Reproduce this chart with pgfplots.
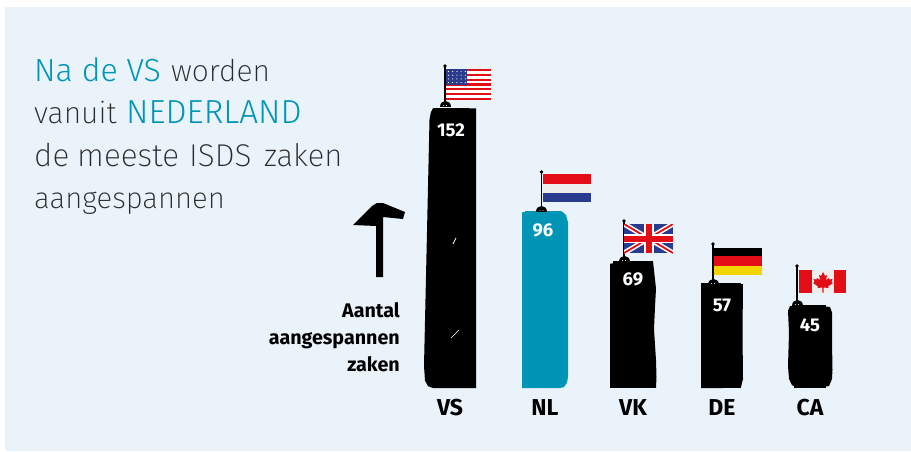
\documentclass[border=0pt]{standalone}
\usepackage{fontspec}
\usepackage{pgfplots}
\pgfplotsset{compat=1.18}
\setmainfont{Fira Sans}
\newfontfamily\lightfont{Fira Sans ExtraLight}
\newfontfamily\tealfont{Fira Sans Light}
\newfontfamily\boldfont{Fira Sans Bold}
\definecolor{panel}{HTML}{EAF3F9}
\definecolor{teal}{HTML}{0095B6}
\definecolor{fred}{HTML}{E30D16}
\definecolor{fblue}{HTML}{2A3B8D}
\definecolor{fwhite}{HTML}{EDEDED}
\definecolor{fyellow}{HTML}{F2D500}
\definecolor{ink}{HTML}{2B2B2B}
\newcommand\tl[1]{{\tealfont\fontsize{32}{32}\selectfont\textcolor{teal}{#1}}}
% flag pole and its foot: x, top y, foot y
\newcommand\pole[3]{%
  \draw[line width=1.4pt,black] (#1,#2) -- (#1,#3);
  \fill[black] (#1,#2) circle (1.9);
  \fill[black] ({#1-5.5},#3) .. controls ({#1-5.5},{#3-8}) and ({#1+5.5},{#3-8}) .. ({#1+5.5},#3) -- cycle;
  \fill[white] ({#1-1.5},{#3-1.3}) circle (0.5) ({#1+1.5},{#3-1.3}) circle (0.5);
}
\begin{document}
\begin{tikzpicture}
\useasboundingbox (0pt,-63pt) rectangle (911pt,388pt);
\fill[panel] (5pt,-63pt) rectangle (911pt,381pt);
\begin{axis}[
  at={(0pt,0pt)}, anchor=origin,
  scale only axis, width=911pt, height=388pt,
  xmin=0, xmax=911, ymin=0, ymax=210.87,
  clip=false,
  axis line style={draw=none},
  tick style={draw=none},
  ytick=\empty,
  xtick={450,545,633,722,810},
  xticklabels={VS,NL,VK,DE,CA},
  x tick label style={font=\boldfont\fontsize{23}{23}\selectfont, text=black, yshift=-8pt},
  /pgf/number format/assume math mode=true,
  nodes near coords,
  every node near coord/.append style={anchor=north, inner sep=0pt, text=white, font=\boldfont\fontsize{18.5}{18.5}\selectfont},
]
% hand-drawn outlines
\addplot[fill=black,draw=none,nodes near coords=] coordinates {(433,152)(476,152)(476,0)(433,0)(428,1)(425,4)(424,12)(427,85)(429.5,146)(431,150)} --cycle;
\addplot[fill=teal,draw=none,nodes near coords=] coordinates {(522,95.5)(540,96)(555,96)(562,96)(566,94)(568,90)(568,6)(567,3)(564,0.5)(560,0)(522,0)} --cycle;
\addplot[fill=black,draw=none,nodes near coords=] coordinates {(610,67.5)(625,69)(653,69)(654,64)(656,54)(655,44)(654,32)(656,15)(656.5,6)(656,0)(640,0.3)(625,0.5)(610,0)} --cycle;
\addplot[fill=black,draw=none,nodes near coords=] coordinates {(701,57)(720,56.5)(743,56.5)(742.5,30)(743,5)(741,0.5)(722,0)(701,0)} --cycle;
\addplot[fill=black,draw=none,nodes near coords=] coordinates {(790,44.5)(800,45)(815,45)(830,44)(832,41)(832,25)(832.5,10)(832,5)(829,1)(815,0.5)(800,0)(792,1.5)(789,5)(788,12)(789,30)(788,42)} --cycle;
% the bars themselves
\addplot[ybar, bar width=36pt, bar shift=0pt, fill=black, draw=none, every node near coord/.append style={yshift=-15pt}] coordinates {(451,152)};
\addplot[ybar, bar width=36pt, bar shift=0pt, fill=teal, draw=none, every node near coord/.append style={yshift=-12pt}] coordinates {(543,96)};
\addplot[ybar, bar width=40pt, bar shift=0pt, fill=black, draw=none, every node near coord/.append style={yshift=-11pt}] coordinates {(633,69)};
\addplot[ybar, bar width=38pt, bar shift=0pt, fill=black, draw=none, every node near coord/.append style={yshift=-16pt}] coordinates {(722,57)};
\addplot[ybar, bar width=32pt, bar shift=0pt, fill=black, draw=none, every node near coord/.append style={yshift=-13pt}] coordinates {(810,45)};
\end{axis}
\begin{scope}[shift={(0pt,388pt)},x=1pt,y=-1pt]
% title
\tikzset{ttl/.style={anchor=base west,inner sep=0pt,text=ink,font=\lightfont\fontsize{30}{30}\selectfont},
         ttlb/.style={ttl,font=\lightfont\fontsize{31.5}{31.5}\selectfont}}
\node[ttl] at (34,81) {\tl{Na de VS}};
\node[ttl] at (171,81) {worden};
\node[ttl] at (34,123) {vanuit};
\node[anchor=base west,inner sep=0pt] at (126,123) {\tealfont\fontsize{33.3}{33.3}\selectfont\textcolor{teal}{NEDERLAND}};
\node[ttlb] at (34,166) {de};
\node[ttlb] at (77,166) {meeste};
\node[ttlb] at (189,166) {ISDS};
\node[ttl,font=\lightfont\fontsize{31}{31}\selectfont] at (264,166) {zaken};
\node[ttl,font=\lightfont\fontsize{29.3}{30}\selectfont] at (34,208) {aangespannen};
% y caption and hammer arrow
\node[anchor=base east,inner sep=0pt,font=\boldfont\fontsize{19.7}{19.7}\selectfont] at (400,317) {Aantal};
\node[anchor=base east,inner sep=0pt,font=\boldfont\fontsize{19.7}{19.7}\selectfont] at (400,344) {aangespannen};
\node[anchor=base east,inner sep=0pt,font=\boldfont\fontsize{19.7}{19.7}\selectfont] at (400,371) {zaken};
\fill[black] (353,225) -- (372,206) -- (377,203) -- (383,203) -- (405,212) -- (403,219) -- (383,217) -- (383,277) -- (376,277) -- (376,226) -- cycle;
% marks in the VS bar
\draw[white,line width=0.7pt] (453,244) -- (456,238);
\draw[white,line width=0.5pt] (451,338) -- (459,330);
% US flag
\pole{445}{66}{107}
\fill[fred] (446,69) rectangle (491,100);
\foreach \i in {1,3,5,7,9,11}{\fill[white] (446,{69+\i*2.385}) rectangle (491,{69+(\i+1)*2.385});}
\fill[fblue] (446,69) rectangle (467,85);
\foreach \a in {0,1,2,3,4}{\foreach \b in {0,1,2,3}{\fill[white] ({448.5+\a*4.2},{71.5+\b*3.7}) circle (0.6);}}
% NL flag
\pole{541.5}{172}{212}
\fill[fred] (543,174) rectangle (591,183.5);
\fill[fwhite] (543,183.5) rectangle (591,192.5);
\fill[fblue] (543,192.5) rectangle (591,202);
% UK flag
\pole{624}{221}{262}
\begin{scope}
\clip (624,224) rectangle (673,253);
\fill[fblue] (624,224) rectangle (673,253);
\draw[white,line width=5pt] (624,224) -- (673,253) (624,253) -- (673,224);
\draw[fred,line width=1.8pt] (624,224) -- (673,253) (624,253) -- (673,224);
\fill[white] (624,234) rectangle (673,243);
\fill[white] (644,224) rectangle (654,253);
\fill[fred] (624,235.5) rectangle (673,241.5);
\fill[fred] (646,224) rectangle (652,253);
\end{scope}
% DE flag
\pole{713}{244}{285}
\fill[black] (714,248) rectangle (762,256);
\fill[fred] (714,256) rectangle (762,266);
\fill[fyellow] (714,266) rectangle (762,275);
% CA flag
\pole{797}{266}{306}
\fill[fwhite] (799,270) rectangle (846,293);
\fill[fred] (799,270) rectangle (811.5,293);
\fill[fred] (834,270) rectangle (846,293);
\fill[fred] (823,272) -- (825,276) -- (827,275) -- (826,280) -- (829,278) -- (829.5,279.5) -- (832.5,279) -- (831.5,282) -- (833,283) -- (828,286.5) -- (828.5,288) -- (823.6,287.5) -- (823.6,292.5) -- (822.4,292.5) -- (822.4,287.5) -- (817.5,288) -- (818,286.5) -- (813,283) -- (814.5,282) -- (813.5,279) -- (816.5,279.5) -- (817,278) -- (820,280) -- (819,275) -- (821,276) -- cycle;
\end{scope}
\end{tikzpicture}
\end{document}
